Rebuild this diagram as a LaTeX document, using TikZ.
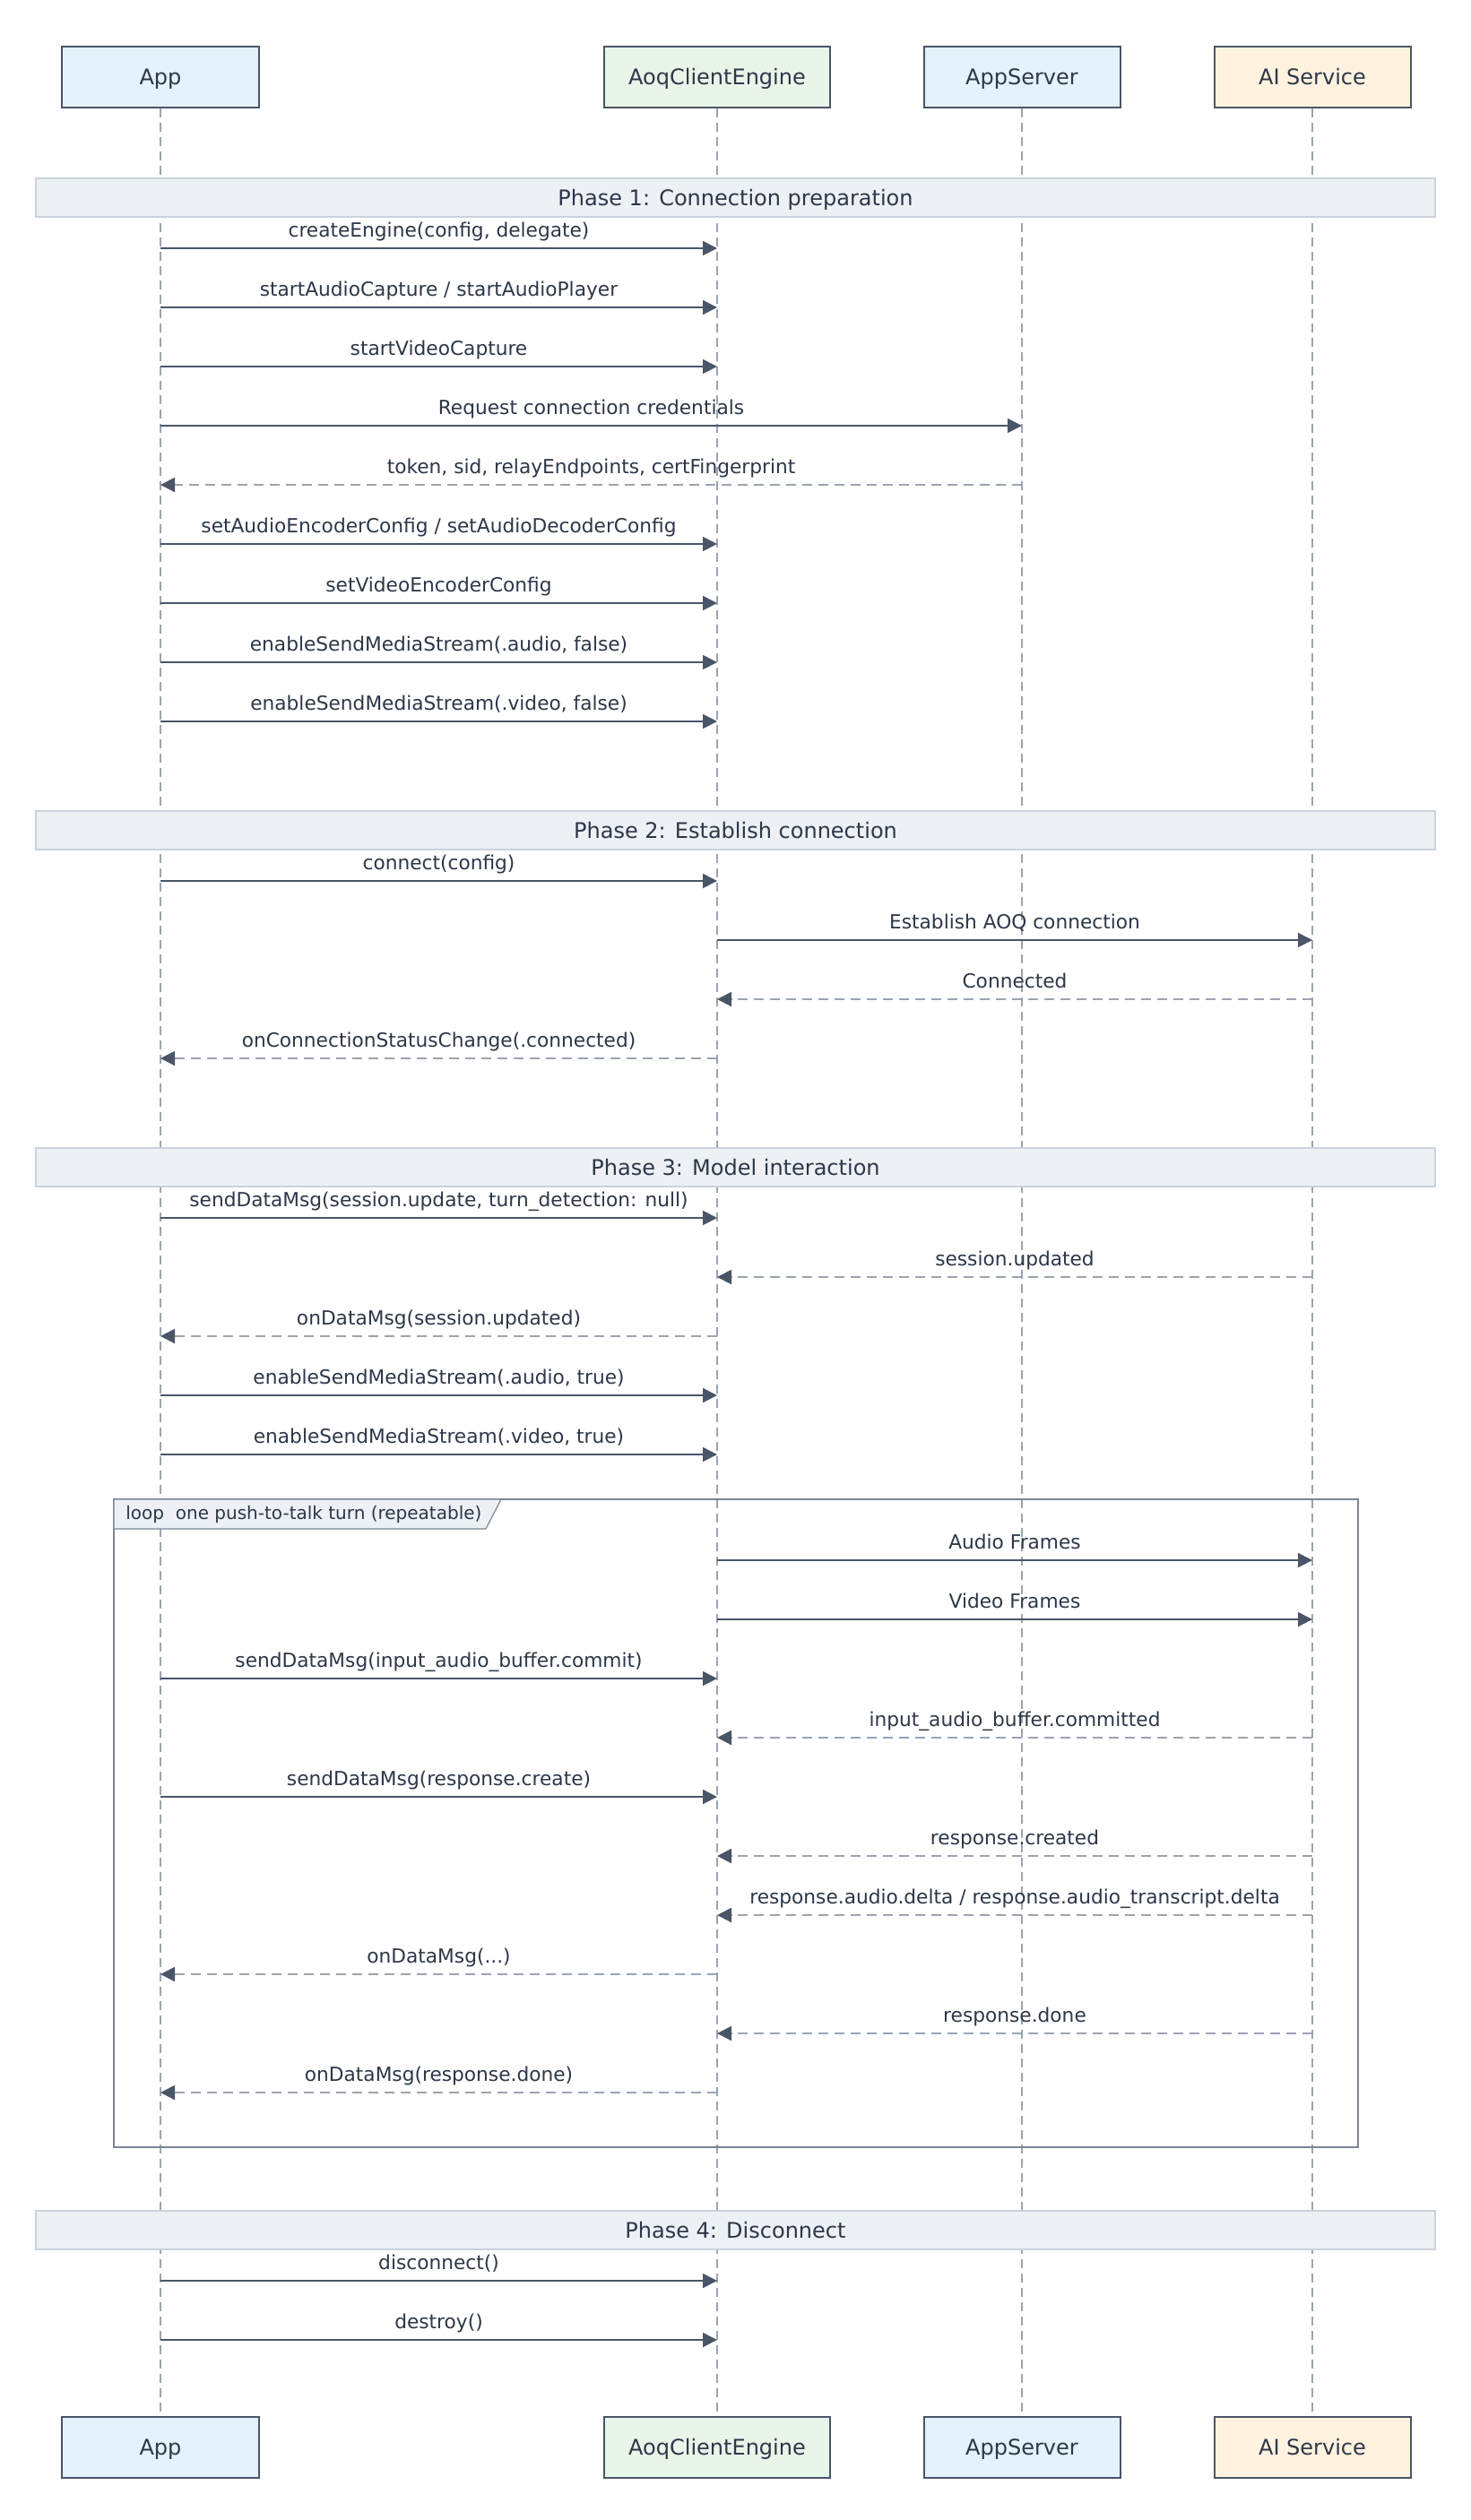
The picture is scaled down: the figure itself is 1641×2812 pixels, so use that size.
\documentclass[tikz,border=0pt]{standalone}
\usepackage{fontspec}
\setmainfont{DejaVu Sans}
\usetikzlibrary{arrows.meta,calc}
\definecolor{ink}{HTML}{2D3748}
\definecolor{edge}{HTML}{4A5568}
\definecolor{life}{HTML}{9AA4B2}
\definecolor{bandfill}{HTML}{EDF1F6}
\definecolor{bandline}{HTML}{CBD2DC}
\definecolor{loopline}{HTML}{7B8594}
\definecolor{bluefill}{HTML}{E3F2FD}
\definecolor{greenfill}{HTML}{E8F5E9}
\definecolor{orangefill}{HTML}{FFF3E0}
\newcommand{\Msg}[5]{%
  \coordinate (m#4s) at (#2 |- 0,#4);
  \coordinate (m#4e) at (#3 |- 0,#4);
  \draw[#1] (m#4s) -- (m#4e);
  \node[msglabel] at ($(m#4s)!0.5!(m#4e)$) {#5};
}
\begin{document}
\begin{tikzpicture}[x=0.5pt,y=-0.5pt,
  actor/.style={draw=edge, line width=1pt, minimum height=34pt, inner sep=0pt,
    text height=9pt, text depth=0.5pt,
    font=\fontsize{12}{14}\selectfont, text=ink},
  lifeline/.style={draw=life, line width=0.85pt, dash pattern=on 5pt off 3pt},
  call/.style={draw=edge, line width=0.9pt, -{Triangle[length=8pt,width=8pt]}},
  reply/.style={draw=life, line width=1pt, dash pattern=on 5.5pt off 3.5pt,
    -{Triangle[length=8pt,width=8pt,color=edge]}},
  msglabel/.style={anchor=base, inner sep=0pt, yshift=6.5pt,
    font=\fontsize{10.85}{13}\selectfont, text=ink},
  band/.style={fill=bandfill, draw=bandline, line width=1pt, minimum width=780.5pt,
    minimum height=21.5pt, inner sep=0pt, text height=9pt, text depth=0.5pt,
    font=\fontsize{12}{14}\selectfont, text=ink},
  looplabel/.style={anchor=west, inner sep=0pt, font=\fontsize{10}{12}\selectfont, text=ink},
]
\useasboundingbox (0,0) rectangle (1641,2812);
\fill[white] (0,0) rectangle (1641,2812);

% participants
\node[actor, fill=bluefill, minimum width=110pt] (appT) at (179,86) {App};
\node[actor, fill=greenfill, minimum width=126pt] (engT) at (800,86) {AoqClientEngine};
\node[actor, fill=bluefill, minimum width=109.5pt] (srvT) at (1140,86) {AppServer};
\node[actor, fill=orangefill, minimum width=109.5pt] (aiT) at (1464,86) {AI Service};
\node[actor, fill=bluefill, minimum width=110pt] (appB) at (179,2731) {App};
\node[actor, fill=greenfill, minimum width=126pt] (engB) at (800,2731) {AoqClientEngine};
\node[actor, fill=bluefill, minimum width=109.5pt] (srvB) at (1140,2731) {AppServer};
\node[actor, fill=orangefill, minimum width=109.5pt] (aiB) at (1464,2731) {AI Service};

% lifelines
\draw[lifeline] (appT.south) -- (appB.north);
\draw[lifeline] (engT.south) -- (engB.north);
\draw[lifeline] (srvT.south) -- (srvB.north);
\draw[lifeline] (aiT.south) -- (aiB.north);

% phase bands
\node[band] (ph1) at (820.5,220.5) {Phase 1: Connection preparation};
\node[band] (ph2) at (820.5,926.5) {Phase 2: Establish connection};
\node[band] (ph3) at (820.5,1302.5) {Phase 3: Model interaction};
\node[band] (ph4) at (820.5,2488.5) {Phase 4: Disconnect};

% loop frame
\draw[draw=loopline, line width=1pt] (127,1673) rectangle (1515,2396);
\draw[draw=loopline, fill=bandfill, line width=0.6pt] (127,1673) -- (559,1673) -- (542,1706) -- (127,1706) -- cycle;
\node[looplabel] (looptxt) at (140,1690) {loop\ \ one push-to-talk turn (repeatable)};

% Phase 1
\Msg{call}{appT}{engT}{277}{createEngine(config, delegate)}
\Msg{call}{appT}{engT}{343}{startAudioCapture / startAudioPlayer}
\Msg{call}{appT}{engT}{409}{startVideoCapture}
\Msg{call}{appT}{srvT}{475}{Request connection credentials}
\Msg{reply}{srvT}{appT}{541}{token, sid, relayEndpoints, certFingerprint}
\Msg{call}{appT}{engT}{607}{setAudioEncoderConfig / setAudioDecoderConfig}
\Msg{call}{appT}{engT}{673}{setVideoEncoderConfig}
\Msg{call}{appT}{engT}{739}{enableSendMediaStream(.audio, false)}
\Msg{call}{appT}{engT}{805}{enableSendMediaStream(.video, false)}
% Phase 2
\Msg{call}{appT}{engT}{983}{connect(config)}
\Msg{call}{engT}{aiT}{1049}{Establish AOQ connection}
\Msg{reply}{aiT}{engT}{1115}{Connected}
\Msg{reply}{engT}{appT}{1181}{onConnectionStatusChange(.connected)}
% Phase 3
\Msg{call}{appT}{engT}{1359}{sendDataMsg(session.update, turn\_detection: null)}
\Msg{reply}{aiT}{engT}{1425}{session.updated}
\Msg{reply}{engT}{appT}{1491}{onDataMsg(session.updated)}
\Msg{call}{appT}{engT}{1557}{enableSendMediaStream(.audio, true)}
\Msg{call}{appT}{engT}{1623}{enableSendMediaStream(.video, true)}
% loop
\Msg{call}{engT}{aiT}{1741}{Audio Frames}
\Msg{call}{engT}{aiT}{1807}{Video Frames}
\Msg{call}{appT}{engT}{1873}{sendDataMsg(input\_audio\_buffer.commit)}
\Msg{reply}{aiT}{engT}{1939}{input\_audio\_buffer.committed}
\Msg{call}{appT}{engT}{2005}{sendDataMsg(response.create)}
\Msg{reply}{aiT}{engT}{2071}{response.created}
\Msg{reply}{aiT}{engT}{2137}{response.audio.delta / response.audio\_transcript.delta}
\Msg{reply}{engT}{appT}{2203}{onDataMsg(...)}
\Msg{reply}{aiT}{engT}{2269}{response.done}
\Msg{reply}{engT}{appT}{2335}{onDataMsg(response.done)}
% Phase 4
\Msg{call}{appT}{engT}{2545}{disconnect()}
\Msg{call}{appT}{engT}{2611}{destroy()}
\end{tikzpicture}
\end{document}
